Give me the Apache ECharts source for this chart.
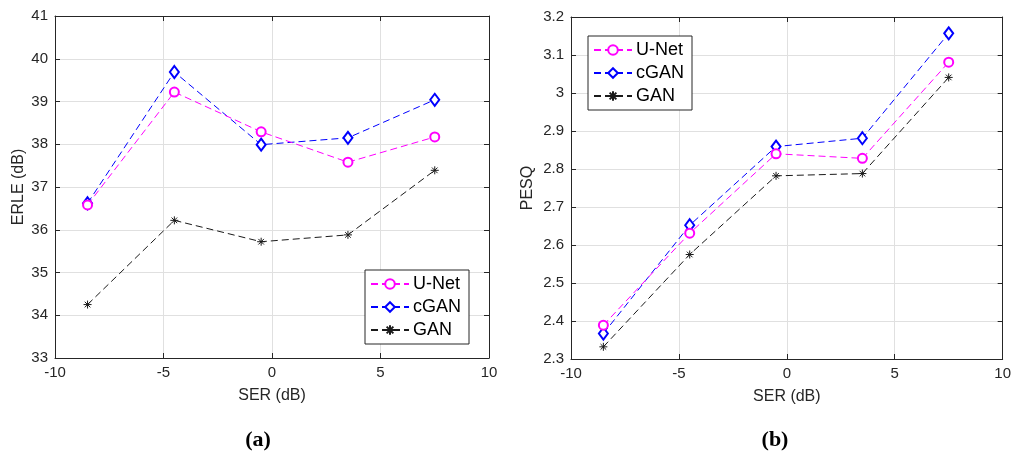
<!DOCTYPE html>
<html><head><meta charset="utf-8">
<script src="https://cdn.jsdelivr.net/npm/echarts@6/dist/echarts.min.js"></script>
<style>html,body{margin:0;padding:0;background:#fff}#c{width:1014px;height:455px}</style>
</head><body><div id="c"></div>
<script>
const ser = [-8.5, -4.5, -0.5, 3.5, 7.5];
const seriesNames = ['U-Net', 'cGAN', 'GAN'];
const erleUNet = [36.58, 39.22, 38.29, 37.58, 38.17];
const erleCGAN = [36.62, 39.69, 37.99, 38.15, 39.04];
const erleGAN  = [34.25, 36.22, 35.72, 35.88, 37.39];
const pesqUNet = [2.389, 2.631, 2.840, 2.828, 3.081];
const pesqCGAN = [2.367, 2.652, 2.859, 2.881, 3.157];
const pesqGAN  = [2.332, 2.575, 2.782, 2.788, 3.041];
const xTicks = [-10, -5, 0, 5, 10];
const erleTicks = [33, 34, 35, 36, 37, 38, 39, 40, 41];
const pesqTicks = [2.3, 2.4, 2.5, 2.6, 2.7, 2.8, 2.9, 3.0, 3.1, 3.2];
const panelLabels = ['(a)', '(b)'];
const xTitle = 'SER (dB)';
const yTitles = ['ERLE (dB)', 'PESQ'];

const AX = '#262626';
const GRID = '#e0e0e0';
const FONT = 'Liberation Sans, Arial, sans-serif';
const asterisk = 'path://M5,0 L5,10 M0,5 L10,5 M1.5,1.5 L8.5,8.5 M8.5,1.5 L1.5,8.5';

const styles = [
  {color: '#ff00ff', symbol: 'emptyCircle', symbolSize: 9},
  {color: '#0000ff', symbol: 'emptyDiamond', symbolSize: [9, 12]},
  {color: '#1a1a1a', symbol: asterisk, symbolSize: 8}
];

function zip(xs, ys) { return xs.map((x, i) => [x, ys[i]]); }

function xAxes(gi) {
  return [
    {type: 'value', gridIndex: gi, min: xTicks[0], max: xTicks[xTicks.length-1], interval: 5,
     name: xTitle, nameLocation: 'middle', nameGap: 30,
     nameTextStyle: {color: AX, fontSize: 16, fontFamily: FONT},
     axisLine: {onZero: false, lineStyle: {color: AX, width: 1}},
     axisTick: {inside: true, length: 5, lineStyle: {color: AX}},
     axisLabel: {color: AX, fontSize: 15, fontFamily: FONT, margin: 7},
     splitLine: {show: true, lineStyle: {color: GRID}}},
    {type: 'value', gridIndex: gi, position: 'top', min: xTicks[0], max: xTicks[xTicks.length-1], interval: 5,
     axisLine: {show: true, onZero: false, lineStyle: {color: AX, width: 1}},
     axisTick: {show: true, inside: true, length: 5, lineStyle: {color: AX}},
     axisLabel: {show: false}, splitLine: {show: false}}
  ];
}
function yAxes(gi, ticks, interval, nameGap, fmt) {
  const mn = ticks[0], mx = ticks[ticks.length-1];
  return [
    {type: 'value', gridIndex: gi, min: mn, max: mx, interval: interval,
     name: yTitles[gi], nameLocation: 'middle', nameGap: nameGap,
     nameTextStyle: {color: AX, fontSize: 16, fontFamily: FONT},
     axisLine: {show: true, onZero: false, lineStyle: {color: AX, width: 1}},
     axisTick: {show: true, inside: true, length: 5, lineStyle: {color: AX}},
     axisLabel: {color: AX, fontSize: 15, fontFamily: FONT, margin: 7, formatter: fmt},
     splitLine: {show: true, lineStyle: {color: GRID}}},
    {type: 'value', gridIndex: gi, position: 'right', min: mn, max: mx, interval: interval,
     axisLine: {show: true, onZero: false, lineStyle: {color: AX, width: 1}},
     axisTick: {show: true, inside: true, length: 5, lineStyle: {color: AX}},
     axisLabel: {show: false}, splitLine: {show: false}}
  ];
}

function mkSeries(gi, datas) {
  return datas.map((d, i) => ({
    type: 'line', name: seriesNames[i], xAxisIndex: gi*2, yAxisIndex: gi*2,
    data: zip(ser, d), symbol: styles[i].symbol, symbolSize: styles[i].symbolSize,
    showAllSymbol: true, animation: false,
    lineStyle: {color: styles[i].color, width: 1, type: [7, 4]},
    itemStyle: {color: styles[i].color, borderColor: styles[i].color, borderWidth: 1},
    z: 3 + (2 - i)
  }));
}

const legendCommon = {
  orient: 'vertical', data: seriesNames, backgroundColor: '#fff',
  borderColor: AX, borderWidth: 1, padding: [5, 8, 5, 5], itemGap: 5,
  itemWidth: 38, itemHeight: 12,
  textStyle: {color: '#000', fontSize: 18, fontFamily: FONT, padding: [0, 0, 0, -1]}
};

const chart = echarts.init(document.getElementById('c'), null, {renderer: 'canvas'});
chart.setOption({
  animation: false,
  backgroundColor: '#fff',
  grid: [
    {left: 55, right: 525, top: 16, bottom: 97},
    {left: 571, right: 9, top: 17, bottom: 96}
  ],
  xAxis: [...xAxes(0), ...xAxes(1)],
  yAxis: [...yAxes(0, erleTicks, 1, 28, v => String(v)),
          ...yAxes(1, pesqTicks, 0.1, 35, v => String(+v.toFixed(1)))],
  legend: [
    Object.assign({}, legendCommon, {left: 365, top: 270}),
    Object.assign({}, legendCommon, {left: 588, top: 36})
  ],
  title: [
    {text: panelLabels[0], left: 253, top: 424, textAlign: 'center',
     textStyle: {fontFamily: 'Liberation Serif, Times New Roman, serif', fontWeight: 'bold', fontSize: 22, color: '#000'}},
    {text: panelLabels[1], left: 770, top: 424, textAlign: 'center',
     textStyle: {fontFamily: 'Liberation Serif, Times New Roman, serif', fontWeight: 'bold', fontSize: 22, color: '#000'}}
  ],
  series: [...mkSeries(0, [erleUNet, erleCGAN, erleGAN]), ...mkSeries(1, [pesqUNet, pesqCGAN, pesqGAN])]
});
</script></body></html>
